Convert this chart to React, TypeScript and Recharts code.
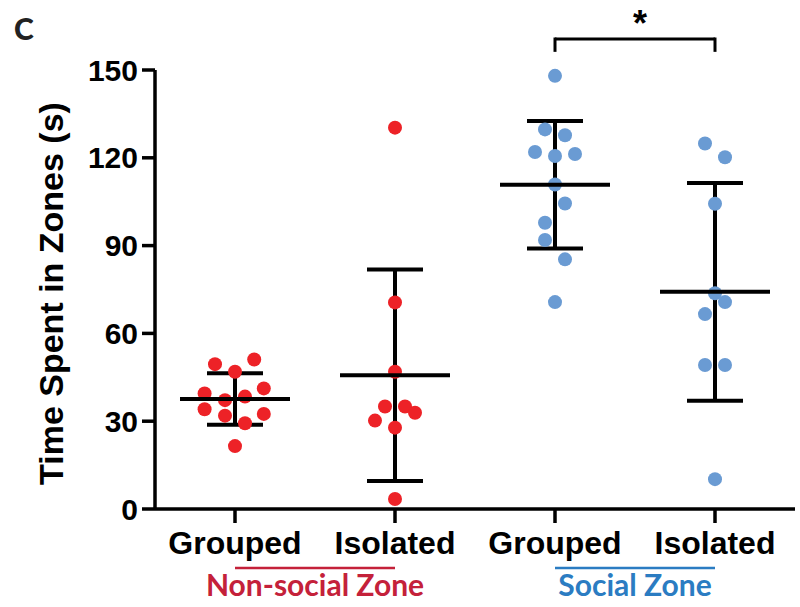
import React from "react"
import { ErrorBar, ReferenceLine, Scatter, ScatterChart, XAxis, YAxis } from "recharts"

// group names on the x axis (1..4)
const groupNames = ["Grouped", "Isolated", "Grouped", "Isolated"]
const yTicks = [0, 30, 60, 90, 120, 150]

// individual animals, seconds spent in the zone
const nonSocialGrouped = [49.5, 51.1, 46.9, 39.5, 41.2, 37.2, 38.4, 34.1, 31.9, 32.5, 29.3, 21.5]
const nonSocialGroupedJitter = [-0.125, 0.12, 0, -0.19, 0.18, -0.0625, 0.0625, -0.19, -0.0625, 0.18, 0.0625, 0]
const nonSocialIsolated = [130.3, 70.6, 46.9, 35.0, 35.0, 32.9, 30.2, 27.8, 3.4]
const nonSocialIsolatedJitter = [0, 0, 0, -0.0625, 0.0625, 0.125, -0.125, 0, 0]
const socialGrouped = [148.0, 129.7, 127.7, 122.0, 120.6, 121.3, 110.9, 104.4, 97.8, 91.9, 85.3, 70.7]
const socialGroupedJitter = [0, -0.0625, 0.0625, -0.125, 0, 0.125, 0, 0.0625, -0.0625, -0.0625, 0.0625, 0]
const socialIsolated = [124.9, 120.2, 104.3, 73.7, 70.7, 66.6, 49.2, 49.2, 10.2]
const socialIsolatedJitter = [-0.0625, 0.0625, 0, 0, 0.0625, -0.0625, -0.0625, 0.0625, 0]

// mean +/- SD per group
const means = [37.6, 45.7, 110.8, 74.2]
const sds = [8.8, 36.1, 21.8, 37.2]

const RED = "#ed2227"
const BLUE = "#6a9bd3"
const ARIAL = "'Liberation Sans', Arial, sans-serif"
const CALIBRI = "Lato, 'Open Sans', sans-serif"

const toPoints = (group: number, values: number[], jitter: number[]) =>
  values.map((v, i) => ({ x: group + jitter[i], y: v }))

const redPoints = [
  ...toPoints(1, nonSocialGrouped, nonSocialGroupedJitter),
  ...toPoints(2, nonSocialIsolated, nonSocialIsolatedJitter),
]
const bluePoints = [
  ...toPoints(3, socialGrouped, socialGroupedJitter),
  ...toPoints(4, socialIsolated, socialIsolatedJitter),
]
const meanData = means.map((m, i) => ({ x: i + 1, y: m, sd: sds[i] }))

const dot = (color: string) => (p: any) => <circle cx={p.cx} cy={p.cy} r={7} fill={color} />
const meanBar = (p: any) => (
  <line x1={p.cx - 55} x2={p.cx + 55} y1={p.cy} y2={p.cy} stroke="#000" strokeWidth={4} />
)

export default function App() {
  return (
    <div style={{ position: "absolute", left: 0, top: 0, width: 800, height: 607, background: "#fff" }}>
      <div
        style={{
          position: "absolute",
          left: 14,
          top: 10,
          fontFamily: CALIBRI,
          fontWeight: 900,
          fontSize: 30,
          lineHeight: "36px",
          color: "#222",
        }}
      >
        C
      </div>
      <ScatterChart width={800} height={607} margin={{ top: 70, right: 5, bottom: 0, left: 0 }}>
        <XAxis
          type="number"
          dataKey="x"
          domain={[0.5, 4.5]}
          ticks={[1, 2, 3, 4]}
          interval={0}
          tickFormatter={(v) => groupNames[v - 1]}
          height={98}
          tickSize={14}
          tickMargin={8}
          axisLine={{ stroke: "#000", strokeWidth: 3.5 }}
          tickLine={{ stroke: "#000", strokeWidth: 3.5 }}
          tick={{ fill: "#000", fontSize: 32, fontWeight: 700, fontFamily: ARIAL }}
        />
        <YAxis
          type="number"
          dataKey="y"
          domain={[0, 150]}
          ticks={yTicks}
          interval={0}
          width={155}
          tickSize={13}
          tickMargin={4}
          axisLine={{ stroke: "#000", strokeWidth: 3.5 }}
          tickLine={{ stroke: "#000", strokeWidth: 3.5 }}
          tick={{ fill: "#000", fontSize: 30, fontWeight: 700, fontFamily: ARIAL }}
          label={{
            content: ({ viewBox }: any) => {
              const cx = viewBox.x + 63
              const cy = viewBox.y + viewBox.height / 2 + 4
              return (
                <text
                  x={cx}
                  y={cy}
                  transform={`rotate(-90 ${cx} ${cy})`}
                  textAnchor="middle"
                  fill="#000"
                  fontSize={34}
                  fontWeight={700}
                  fontFamily={ARIAL}
                >
                  Time Spent in Zones (s)
                </text>
              )
            },
          }}
        />
        <Scatter data={redPoints} shape={dot(RED)} isAnimationActive={false} />
        <Scatter data={bluePoints} shape={dot(BLUE)} isAnimationActive={false} />
        <Scatter data={meanData} shape={meanBar} isAnimationActive={false}>
          <ErrorBar dataKey="sd" direction="y" width={28} stroke="#000" strokeWidth={4} isAnimationActive={false} />
        </Scatter>

        {/* significance bracket */}
        <ReferenceLine
          segment={[{ x: 3, y: 160.6 }, { x: 4, y: 160.6 }]}
          ifOverflow="visible"
          stroke="#000"
          strokeWidth={3}
          label={{ value: "*", position: "top", offset: 3, dx: 5, fill: "#000", fontSize: 36, fontWeight: 700, fontFamily: ARIAL }}
        />
        <ReferenceLine segment={[{ x: 3, y: 161.1 }, { x: 3, y: 156.2 }]} ifOverflow="visible" stroke="#000" strokeWidth={3} />
        <ReferenceLine segment={[{ x: 4, y: 161.1 }, { x: 4, y: 156.2 }]} ifOverflow="visible" stroke="#000" strokeWidth={3} />

        {/* zone underlines */}
        <ReferenceLine
          segment={[{ x: 1, y: -20.2 }, { x: 2, y: -20.2 }]}
          ifOverflow="visible"
          stroke="#c4213a"
          strokeWidth={2.5}
          label={{ value: "Non-social Zone", position: "bottom", offset: 7, fill: "#c4213a", fontSize: 30, fontWeight: 700, fontFamily: CALIBRI }}
        />
        <ReferenceLine
          segment={[{ x: 3, y: -20.2 }, { x: 4, y: -20.2 }]}
          ifOverflow="visible"
          stroke="#2b7cc2"
          strokeWidth={2.5}
          label={{ value: "Social Zone", position: "bottom", offset: 7, fill: "#2b7cc2", fontSize: 30, fontWeight: 700, fontFamily: CALIBRI }}
        />
      </ScatterChart>
    </div>
  )
}
